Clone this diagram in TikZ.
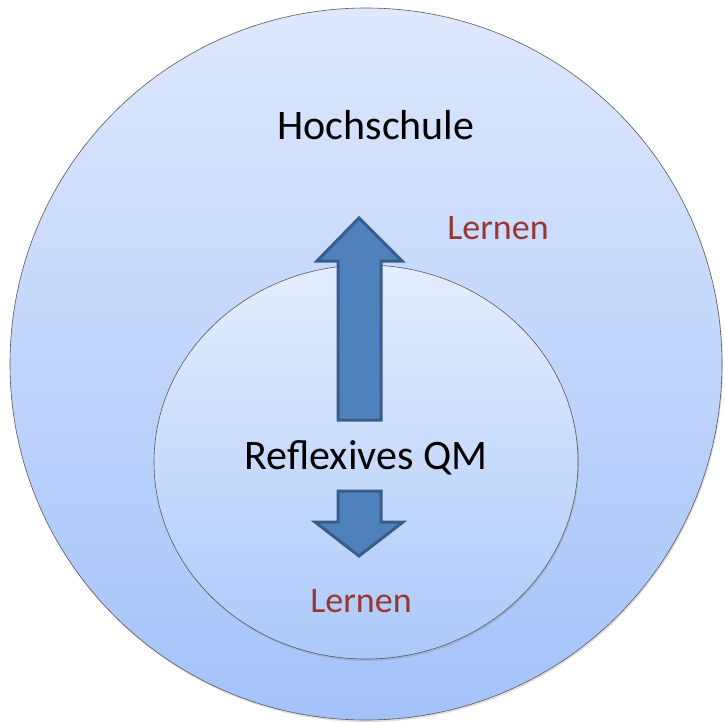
\documentclass[tikz,border=0pt]{standalone}
\usepackage{fontspec}
\setmainfont{Carlito}
\usetikzlibrary{shapes.geometric,shadows,positioning}
\definecolor{outertop}{RGB}{222,232,253}
\definecolor{outerbot}{RGB}{164,194,250}
\definecolor{innertop}{RGB}{228,237,253}
\definecolor{innerbot}{RGB}{172,201,250}
\definecolor{arrowfill}{RGB}{79,129,189}
\definecolor{arrowline}{RGB}{56,93,138}
\definecolor{learnred}{RGB}{152,56,52}

\begin{document}
\begin{tikzpicture}[x=1pt, y=-1pt,
  zone/.style={draw=black!65, line width=0.6pt, inner sep=0pt,
    drop shadow={opacity=0.25, shadow xshift=1pt, shadow yshift=-2pt}},
  blockarrow/.style={fill=arrowfill, draw=arrowline, line width=3pt, line join=miter},
  bigtext/.style={font=\fontsize{42}{48}\selectfont},
  redtext/.style={font=\fontsize{36}{42}\selectfont, text=learnred}]
\useasboundingbox (0,0) rectangle (725,722);

% Circles
\node[zone, circle, minimum size=712pt, top color=outertop, bottom color=outerbot] (hs) at (366,364) {};
\node[zone, ellipse, minimum width=424pt, minimum height=394pt, top color=innertop, bottom color=innerbot] (qm) at (366,462) {};

% Arrows
\draw[blockarrow] (338,420) -- (338,261) -- (317,261) -- (359,218) -- (402,261) -- (381,261) -- (381,420) -- cycle;
\draw[blockarrow] (338,491) -- (381,491) -- (381,522) -- (403,522) -- (359,556) -- (315,522) -- (338,522) -- cycle;

% Labels
\node[bigtext] (hslabel) at (376,125) {Hochschule};
\node[bigtext] (qmlabel) at (366,458) {Reflexives QM};
\node[redtext] (learnup) at (498,228) {Lernen};
\node[redtext] (learndown) at (361,601) {Lernen};
\end{tikzpicture}
\end{document}
